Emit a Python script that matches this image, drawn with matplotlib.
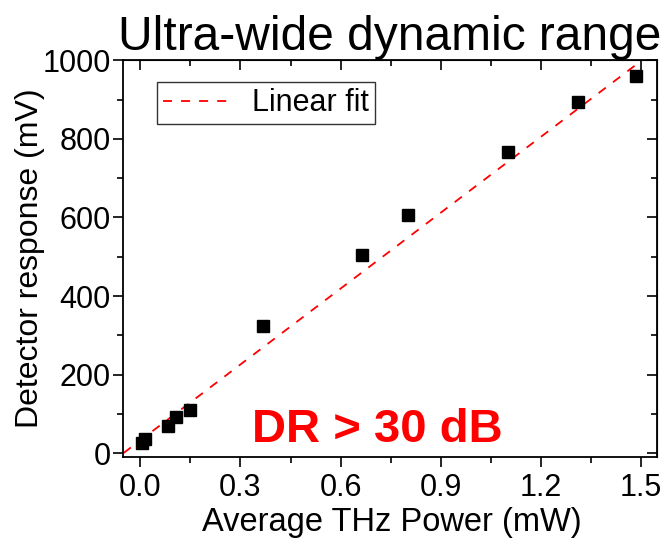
import matplotlib
matplotlib.use("Agg")
import matplotlib.pyplot as plt
import numpy as np
from matplotlib.ticker import MultipleLocator, FormatStrFormatter

plt.rcParams['font.family'] = ['Liberation Sans', 'DejaVu Sans']

power_mw = [0.006, 0.014, 0.083, 0.108, 0.148, 0.366, 0.664, 0.803, 1.102, 1.310, 1.486]
response_mv = [25, 36, 70, 92, 109, 323, 505, 606, 766, 895, 960]
fit_x = [-0.05, 1.55]
fit_slope = 643.5
fit_intercept = 33.0

fig = plt.figure(figsize=(6.7, 5.39), dpi=100)
ax = fig.add_axes([0.1836, 0.1525, 0.7970, 0.7356])

fx = np.array(fit_x)
ax.plot(fx, fit_slope * fx + fit_intercept, ls=(0, (5, 5)), color='#ff0000', lw=1.3,
        label='Linear fit', zorder=2)
ax.plot(power_mw, response_mv, ls='none', marker='s', ms=8.7, color='black', zorder=3)

ax.set_xlim(-0.052, 1.548)
ax.set_ylim(-9, 1000)
ax.xaxis.set_major_locator(MultipleLocator(0.3))
ax.xaxis.set_minor_locator(MultipleLocator(0.15))
ax.yaxis.set_major_locator(MultipleLocator(200))
ax.yaxis.set_minor_locator(MultipleLocator(100))
ax.xaxis.set_major_formatter(FormatStrFormatter('%.1f'))

ax.tick_params(which='both', direction='out', top=False, right=False, labelsize=22, width=1.2)
ax.tick_params(which='major', length=7)
ax.tick_params(which='minor', length=4)
ax.tick_params(axis='y', pad=2)
ax.tick_params(axis='x', pad=5)

for s in ax.spines.values():
    s.set_linewidth(1.3)

secx = ax.secondary_xaxis('top')
secx.xaxis.set_major_locator(MultipleLocator(0.3))
secx.xaxis.set_minor_locator(MultipleLocator(0.15))
secx.tick_params(which='both', direction='in', labeltop=False, width=1.2)
secx.tick_params(which='major', length=7)
secx.tick_params(which='minor', length=4)
secy = ax.secondary_yaxis('right')
secy.yaxis.set_major_locator(MultipleLocator(200))
secy.yaxis.set_minor_locator(MultipleLocator(100))
secy.tick_params(which='both', direction='in', labelright=False, width=1.2)
secy.tick_params(which='major', length=7)
secy.tick_params(which='minor', length=4)

ax.set_xlabel('Average THz Power (mW)', fontsize=23.5)
ax.xaxis.label.set_va('baseline')
ax.xaxis.set_label_coords(0.504, -0.187)
ax.set_ylabel('Detector response (mV)', fontsize=23, labelpad=-2)
ax.set_title('Ultra-wide dynamic range', fontsize=34.5, pad=4)

leg = ax.legend(loc='upper left', bbox_to_anchor=(0.064, 0.945), fontsize=22,
                frameon=True, fancybox=False, edgecolor='black', handlelength=2.3,
                borderpad=0.2, handletextpad=0.6, borderaxespad=0)
leg.get_frame().set_linewidth(1.0)

ax.text(0.4766, 0.038, 'DR > 30 dB', transform=ax.transAxes, color='#ff0000',
        fontsize=34, fontweight='bold', ha='center', va='baseline')

fig.savefig('out.png', dpi=100)
